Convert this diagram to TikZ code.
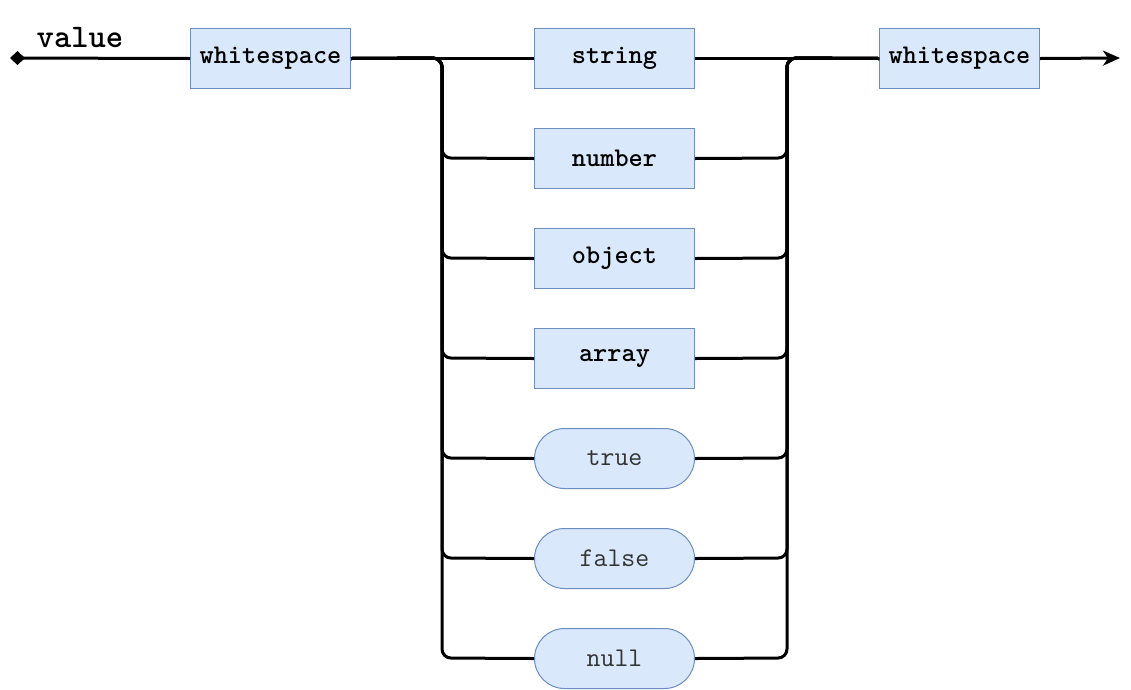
\documentclass[tikz,border=0pt]{standalone}
\usepackage{fontspec}
\usetikzlibrary{arrows.meta}
\definecolor{boxfill}{HTML}{DAE8FC}
\definecolor{boxline}{HTML}{6C8EBF}
\definecolor{labelgrey}{HTML}{333333}
\begin{document}
\begin{tikzpicture}[x=1pt,y=-1pt,
  box/.style={draw=boxline, fill=boxfill, line width=1pt, minimum width=160pt, minimum height=60pt, inner sep=0pt, anchor=north west, font=\ttfamily\bfseries\fontsize{27}{32}\selectfont},
  pill/.style={box, rounded corners=30pt, font=\ttfamily\fontsize{27}{32}\selectfont, text=labelgrey},
  wire/.style={line width=3pt, rounded corners=9pt}]
\useasboundingbox (0,0) rectangle (1131,689);
\fill[white] (0,0) rectangle (1131,689);
\coordinate (start) at (10,58);
\coordinate (finish) at (1120,58);
\node[font=\ttfamily\bfseries\fontsize{33}{38}\selectfont, anchor=base] (lbl) at (80,47) {value};
\node[box] (ws1) at (190,28) {whitespace};
\node[box] (string) at (534,28) {string};
\node[box] (number) at (534,128) {number};
\node[box] (object) at (534,228) {object};
\node[box] (array) at (534,328) {array};
\node[pill] (true) at (534,428) {true};
\node[pill] (false) at (534,528) {false};
\node[pill] (null) at (534,628) {null};
\node[box] (ws2) at (879,28) {whitespace};
\draw[wire, {Diamond[length=15pt,width=14pt]}-] (start) -- (ws1.west);
\draw[wire, -{Stealth[length=17pt,width=15pt,inset=5pt]}] (ws2.east) -- (finish);
\draw[wire] (ws1.east) -- (string.west);
\draw[wire] (string.east) -- (ws2.west);
\foreach \n/\y in {number/158,object/258,array/358,true/458,false/558,null/658}{
  \draw[wire] (ws1.east) -- (442,58) -- (442,\y) -- (\n.west);
  \draw[wire] (\n.east) -- (787,\y) -- (787,58) -- (ws2.west);
}
\end{tikzpicture}
\end{document}
